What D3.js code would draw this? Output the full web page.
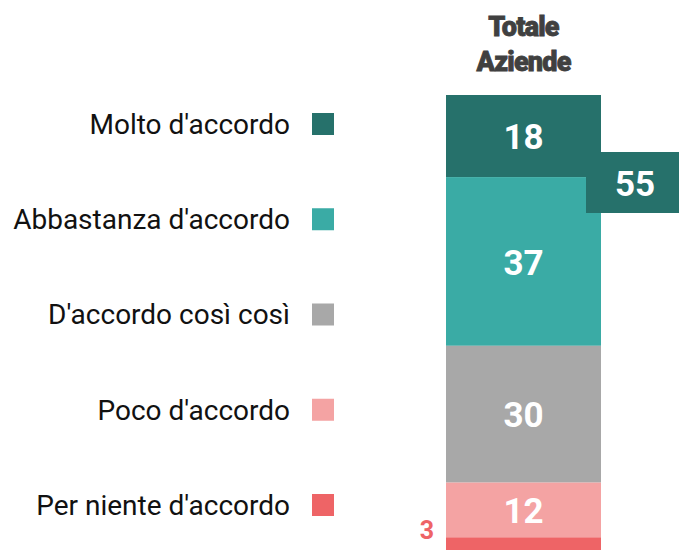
<!DOCTYPE html>
<html>
<head>
<meta charset="utf-8">
<script src="https://cdn.jsdelivr.net/npm/d3@7"></script>
<style>
  body { margin: 0; background: #fff; }
  svg { display: block; }
</style>
</head>
<body>
<div id="chart"></div>
<script>
// dati
const categories = ["Molto d'accordo", "Abbastanza d'accordo", "D'accordo così così", "Poco d'accordo", "Per niente d'accordo"];
const values = [18, 37, 30, 12, 3];
const colors = ["#26716b", "#3aaba5", "#a8a8a8", "#f4a3a3", "#ee6466"];
const columnTitle = ["Totale", "Aziende"];
const agreeTotal = 55; // molto + abbastanza

const width = 679, height = 550;
const font = "Roboto, 'Noto Sans', sans-serif";

let svg = d3.select("#chart").append("svg")
  .attr("width", width)
  .attr("height", height);

let x = d3.scaleBand()
  .domain(["Totale Aziende"])
  .range([446, 601])
  .padding(0);

let y = d3.scaleLinear()
  .domain([0, d3.sum(values)])
  .range([95, 551]);

// stack
let stack = [];
let acc = 0;
values.forEach(function(v, i) {
  stack.push({cat: categories[i], value: v, y0: acc, y1: acc + v, color: colors[i]});
  acc += v;
});

let g = svg.append("g");

g.selectAll("rect.seg")
  .data(stack)
  .enter().append("rect")
  .attr("class", "seg")
  .attr("x", x("Totale Aziende"))
  .attr("width", x.bandwidth())
  .attr("y", d => y(d.y0))
  .attr("height", d => y(d.y1) - y(d.y0))
  .attr("fill", d => d.color);

// etichette dentro le barre
g.selectAll("text.val")
  .data(stack.filter(d => d.value >= 5))
  .enter().append("text")
  .attr("class", "val")
  .attr("x", x("Totale Aziende") + x.bandwidth() / 2)
  .attr("y", d => (y(d.y0) + y(d.y1)) / 2 + 1)
  .attr("dy", "0.35em")
  .attr("text-anchor", "middle")
  .attr("fill", "#fff")
  .style("font-family", font)
  .style("font-weight", 700)
  .style("font-size", "35px")
  .text(d => d.value);

// piccoli valori fuori
g.selectAll("text.small")
  .data(stack.filter(d => d.value < 5))
  .enter().append("text")
  .attr("class", "small")
  .attr("x", x("Totale Aziende") - 12)
  .attr("y", 539)
  .attr("text-anchor", "end")
  .attr("fill", d => d.color)
  .style("font-family", font)
  .style("font-weight", 700)
  .style("font-size", "25px")
  .text(d => d.value);

// box totale accordo
let boxX = x("Totale Aziende") + x.bandwidth() - 15;
svg.append("rect")
  .attr("x", boxX)
  .attr("y", 152)
  .attr("width", width - boxX + 5)
  .attr("height", 61)
  .attr("fill", colors[0]);

svg.append("text")
  .attr("x", 635)
  .attr("y", 184)
  .attr("dy", "0.35em")
  .attr("text-anchor", "middle")
  .attr("fill", "#fff")
  .style("font-family", font)
  .style("font-weight", 700)
  .style("font-size", "35px")
  .text(agreeTotal);

// titolo colonna
svg.append("g").selectAll("text")
  .data(columnTitle)
  .enter().append("text")
  .attr("x", x("Totale Aziende") + x.bandwidth() / 2)
  .attr("y", (d, i) => 36 + i * 35)
  .attr("text-anchor", "middle")
  .attr("fill", "#404040")
  .attr("stroke", "#404040")
  .attr("stroke-width", 0.8)
  .style("font-family", font)
  .style("font-weight", 900)
  .style("font-size", "27px")
  .style("letter-spacing", "-0.8px")
  .text(d => d);

// legenda
let legendY = d3.scalePoint()
  .domain(categories)
  .range([124, 505]);

let legend = svg.append("g").selectAll("g")
  .data(categories)
  .enter().append("g")
  .attr("transform", d => "translate(0," + legendY(d) + ")");

legend.append("rect")
  .attr("x", 312)
  .attr("y", -11)
  .attr("width", 22)
  .attr("height", 22)
  .attr("fill", (d, i) => colors[i]);

legend.append("text")
  .attr("x", 290)
  .attr("y", 0)
  .attr("dy", "0.35em")
  .attr("text-anchor", "end")
  .attr("fill", "#111")
  .style("font-family", font)
  .style("font-size", "28px")
  .text(d => d);
</script>
</body>
</html>
